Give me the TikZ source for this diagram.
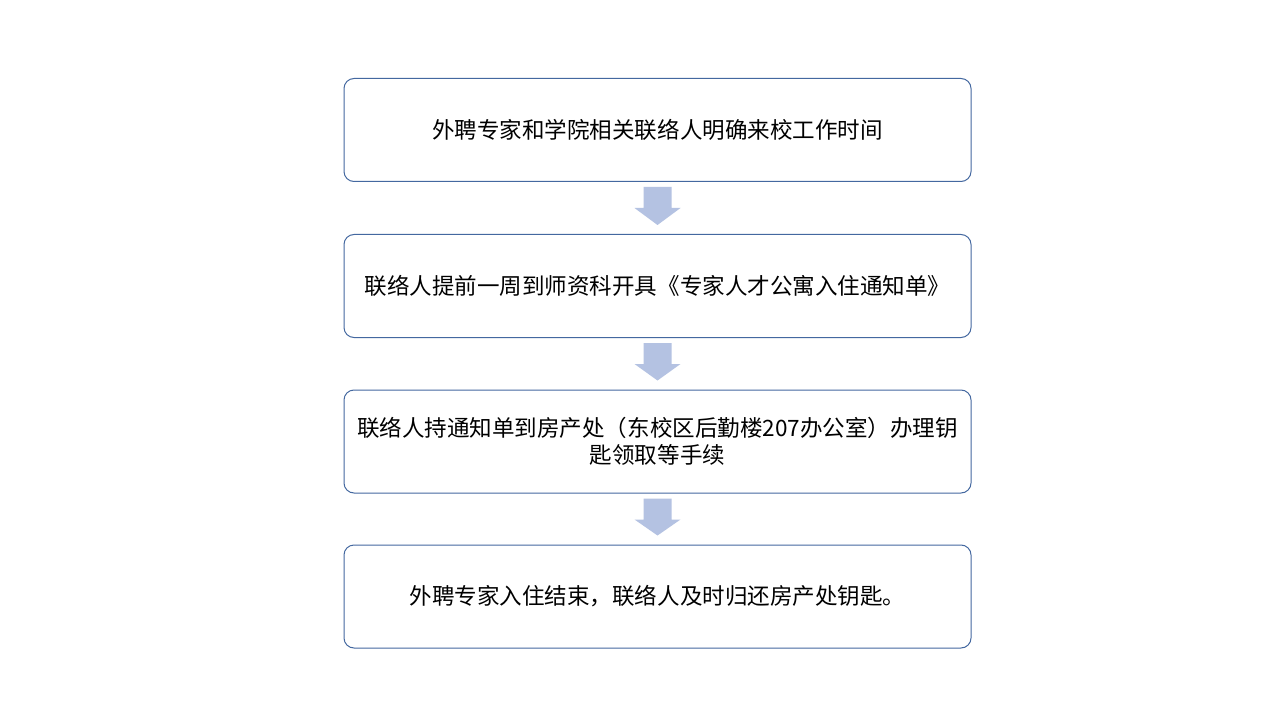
\documentclass[tikz,border=0pt]{standalone}
\usepackage{fontspec}
\setmainfont{Noto Sans CJK SC}
\usetikzlibrary{calc}
\definecolor{boxline}{RGB}{68,104,160}
\definecolor{arrowfill}{RGB}{180,194,226}
\def\blockarrow(#1)(#2){\fill[arrowfill] ($(#1.south)+(-14,5)$) -- ($(#1.south)+(14,5)$) -- ($(#1.south)+(14,26)$) -- ($(#1.south)+(23,26)$) -- ($(#2.north)+(0,-9)$) -- ($(#1.south)+(-23,26)$) -- ($(#1.south)+(-14,26)$) -- cycle;}

\begin{document}
\begin{tikzpicture}[x=0.75pt,y=-0.75pt,
	stepbox/.style={draw=boxline, line width=0.75pt, rounded corners=7.5pt, minimum width=470.25pt, minimum height=77.25pt, inner sep=0pt, align=center, font=\fontsize{16.9pt}{20.3pt}\selectfont}]
			%%%%% START %%%%%
			
			\useasboundingbox[fill=white] (0, 0) rectangle (1280, 720);
			
			\node[stepbox] (step1) at (657.5, 130) {外聘专家和学院相关联络人明确来校工作时间};
			\node[stepbox] (step2) at (657.5, 286) {联络人提前一周到师资科开具《专家人才公寓入住通知单》};
			\node[stepbox] (step3) at (657.5, 441.5) {联络人持通知单到房产处（东校区后勤楼207办公室）办理钥\\匙领取等手续};
			\node[stepbox] (step4) at (657.5, 596.5) {外聘专家入住结束，联络人及时归还房产处钥匙。};
			
			\blockarrow(step1)(step2)
			\blockarrow(step2)(step3)
			\blockarrow(step3)(step4)
			
			%%%%% END %%%%%
		\end{tikzpicture}
\end{document}
